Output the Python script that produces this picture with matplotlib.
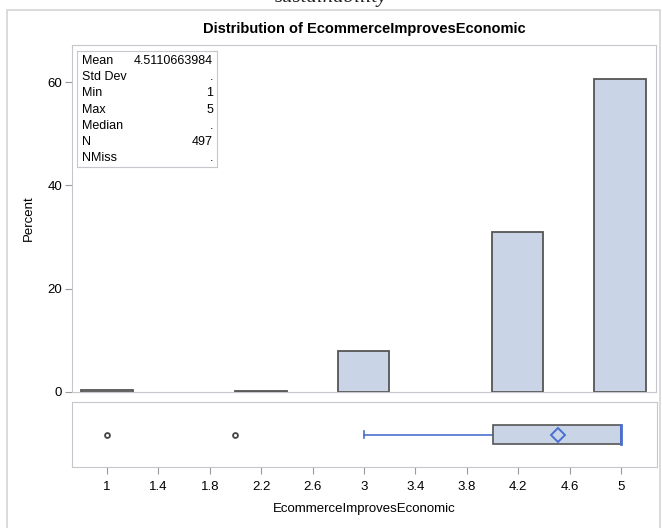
import matplotlib
matplotlib.use("Agg")
import matplotlib.pyplot as plt
from matplotlib.patches import Rectangle

plt.rcParams['font.family'] = ['Liberation Sans', 'DejaVu Sans']

# histogram bins (midpoints, width 0.4) and percent per bin
bin_mids = [1.0, 2.2, 3.0, 4.2, 5.0]
percents = [0.40, 0.20, 7.85, 30.99, 60.56]
bin_width = 0.4

# box plot summary
q1, median, q3 = 4.0, 5.0, 5.0
whisker_lo, whisker_hi = 3.0, 5.0
mean_val = 4.5110663984
outliers = [1.0, 2.0]

x_ticks = [1, 1.4, 1.8, 2.2, 2.6, 3, 3.4, 3.8, 4.2, 4.6, 5]
x_tick_labels = ['1', '1.4', '1.8', '2.2', '2.6', '3', '3.4', '3.8', '4.2', '4.6', '5']
y_ticks = [0, 20, 40, 60]

stat_names = ['Mean', 'Std Dev', 'Min', 'Max', 'Median', 'N', 'NMiss']
stat_values = ['4.5110663984', '.', '1', '5', '.', '497', '.']

fill = '#c9d5e6'
edge = '#555555'
blue = '#4a6fcf'
frame = '#c4c8cc'
xmin, xmax = 0.728, 5.28

fig = plt.figure(figsize=(6.62, 5.28), dpi=100)

# outer frame and the caption line above it
fig.patches.append(Rectangle((7 / 662, -0.01), 653 / 662, 1 - 10 / 528 + 0.01,
                             transform=fig.transFigure, fill=False,
                             edgecolor='#d4d4d4', linewidth=1.2))
fig.text(0.5, 1.005, 'sustainability', ha='center', va='center',
         fontsize=15, style='italic', family='Liberation Serif', color='#222222')

ax = fig.add_axes([72 / 662, 1 - 392 / 528, 584 / 662, 347 / 528])
bx = fig.add_axes([72 / 662, 1 - 467 / 528, 585 / 662, 65 / 528])

ax.bar(bin_mids, percents, width=bin_width, color=fill, edgecolor=edge, linewidth=1.3)
ax.set_xlim(xmin, xmax)
ax.set_ylim(0, 67.2)
ax.set_yticks(y_ticks)
ax.set_xticks([])
ax.tick_params(axis='y', labelsize=9.5, color='#999999', length=5, width=0.8, pad=2)
for s in ax.spines.values():
    s.set_color(frame)
ax.set_ylabel('Percent', fontsize=9.5, labelpad=9)
ax.set_title('Distribution of EcommerceImprovesEconomic', fontsize=10.5,
             fontweight='bold', pad=9)

# statistics inset
inset = fig.add_axes([77 / 662, 1 - 167 / 528, 140 / 662, 116 / 528])
inset.set_xticks([])
inset.set_yticks([])
for s in inset.spines.values():
    s.set_color(frame)
for i, (name, val) in enumerate(zip(stat_names, stat_values)):
    y = 1 - (10 + i * 16.2) / 116
    inset.text(5 / 140, y, name, fontsize=9, va='center', ha='left', transform=inset.transAxes)
    inset.text(136 / 140, y, val, fontsize=9, va='center', ha='right', transform=inset.transAxes)

# horizontal box plot
bx.add_patch(Rectangle((q1, -0.3), q3 - q1, 0.6, facecolor=fill, edgecolor=edge, linewidth=1.2, zorder=2))
bx.plot([median, median], [-0.3, 0.3], color=blue, linewidth=2, zorder=3)
bx.plot([whisker_lo, q1], [0, 0], color=blue, linewidth=1.2, zorder=1)
bx.plot([whisker_lo, whisker_lo], [-0.1, 0.1], color=blue, linewidth=1.2)
bx.plot([mean_val], [0], marker='D', markersize=7, markerfacecolor='none',
        markeredgecolor=blue, markeredgewidth=1.4, zorder=4)
bx.plot(outliers, [0] * len(outliers), 'o', markersize=3.5, markerfacecolor='none',
        markeredgecolor='#444444', markeredgewidth=1.3)
bx.set_xlim(xmin, xmax)
bx.set_ylim(-1, 1)
bx.set_yticks([])
bx.set_xticks(x_ticks)
bx.set_xticklabels(x_tick_labels)
bx.tick_params(axis='x', labelsize=9.5, color='#999999', length=5, width=0.8, pad=5)
for s in bx.spines.values():
    s.set_color(frame)
bx.set_xlabel('EcommerceImprovesEconomic', fontsize=9.5, labelpad=7)

fig.savefig('out.png', dpi=100)
